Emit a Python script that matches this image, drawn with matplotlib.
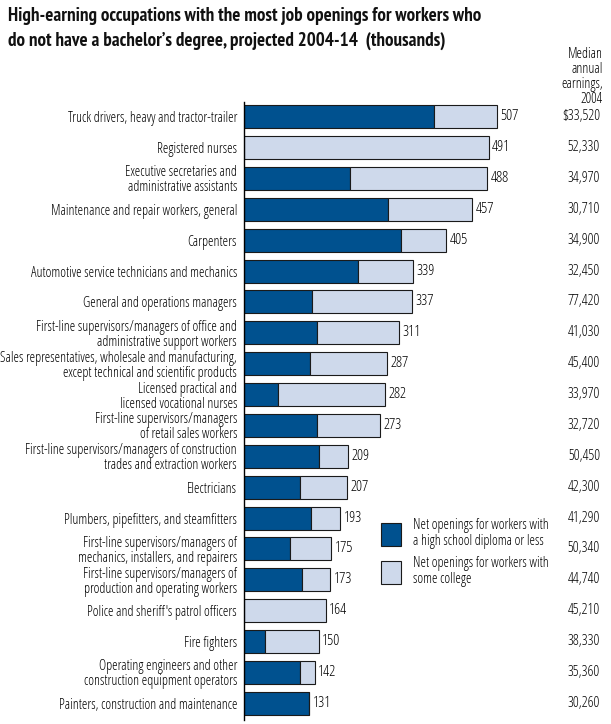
import matplotlib.pyplot as plt

plt.rcParams['font.family'] = ['Open Sans', 'DejaVu Sans']
plt.rcParams['font.stretch'] = 'condensed'

# Data
occupations = [
    "Truck drivers, heavy and tractor-trailer",
    "Registered nurses",
    "Executive secretaries and\nadministrative assistants",
    "Maintenance and repair workers, general",
    "Carpenters",
    "Automotive service technicians and mechanics",
    "General and operations managers",
    "First-line supervisors/managers of office and\nadministrative support workers",
    "Sales representatives, wholesale and manufacturing,\nexcept technical and scientific products",
    "Licensed practical and\nlicensed vocational nurses",
    "First-line supervisors/managers\nof retail sales workers",
    "First-line supervisors/managers of construction\ntrades and extraction workers",
    "Electricians",
    "Plumbers, pipefitters, and steamfitters",
    "First-line supervisors/managers of\nmechanics, installers, and repairers",
    "First-line supervisors/managers of\nproduction and operating workers",
    "Police and sheriff's patrol officers",
    "Fire fighters",
    "Operating engineers and other\nconstruction equipment operators",
    "Painters, construction and maintenance",
]
totals = [507, 491, 488, 457, 405, 339, 337, 311, 287, 282, 273, 209, 207, 193, 175, 173, 164, 150, 142, 131]
high_school = [382, 0, 213, 288, 316, 229, 136, 146, 132, 69, 146, 151, 112, 135, 92, 116, 0, 42, 112, 131]
earnings = ["$33,520", "52,330", "34,970", "30,710", "34,900", "32,450", "77,420", "41,030", "45,400",
            "33,970", "32,720", "50,450", "42,300", "41,290", "50,340", "44,740", "45,210", "38,330",
            "35,360", "30,260"]

some_college = [t - h for t, h in zip(totals, high_school)]

dark = '#00518f'
light = '#ced9eb'

W, H = 611, 724
fig = plt.figure(figsize=(W / 100, H / 100), dpi=100)
ax = fig.add_axes([244 / W, 4 / H, 356 / W, (720 - 101.7) / H])

y = list(range(len(occupations)))
ax.barh(y, high_school, height=0.745, color=dark, edgecolor='#1a1a1a', linewidth=0.8)
ax.barh(y, some_college, left=high_school, height=0.745, color=light, edgecolor='#1a1a1a', linewidth=0.8)

for i, t in enumerate(totals):
    ax.text(t + 7, i, str(t), va='center', ha='left', fontsize=11)
    ax.text(1.0, i, earnings[i], transform=ax.get_yaxis_transform(), va='center', ha='right', fontsize=10.5)

ax.set_xlim(0, 356 / 0.4984)
ax.set_ylim(19.54, -0.486)
ax.set_yticks(y)
ax.set_yticklabels(occupations, fontsize=10, linespacing=1.0)
ax.tick_params(axis='y', length=0, pad=5)
ax.set_xticks([])
for s in ['top', 'right', 'bottom']:
    ax.spines[s].set_visible(False)
ax.spines['left'].set_linewidth(1.0)

# Title and column header
fig.text(8 / W, 1 - 7 / H, "High-earning occupations with the most job openings for workers who\n"
         "do not have a bachelor\u2019s degree, projected 2004-14  (thousands)",
         ha='left', va='top', fontsize=13.7, fontweight='bold', color='#111111', linespacing=1.45,
         family=['PT Sans Narrow', 'Roboto Condensed', 'DejaVu Sans'], fontstretch='normal')
fig.text(603 / W, 1 - 47 / H, "Median\nannual\nearnings,\n2004", ha='right', va='top', fontsize=10,
         linespacing=1.0)

# Legend
lx0, lw = 381, 20
for (ytop, col, txt) in [(523, dark, "Net openings for workers with\na high school diploma or less"),
                         (561, light, "Net openings for workers with\nsome college")]:
    fig.patches.append(plt.Rectangle((lx0 / W, 1 - (ytop + 23) / H), lw / W, 23 / H,
                                     transform=fig.transFigure, facecolor=col, edgecolor='#1a1a1a',
                                     linewidth=0.8))
    fig.text(413 / W, 1 - (ytop - 5) / H, txt, ha='left', va='top', fontsize=10, linespacing=1.1)

fig.savefig('out.png', dpi=100)
